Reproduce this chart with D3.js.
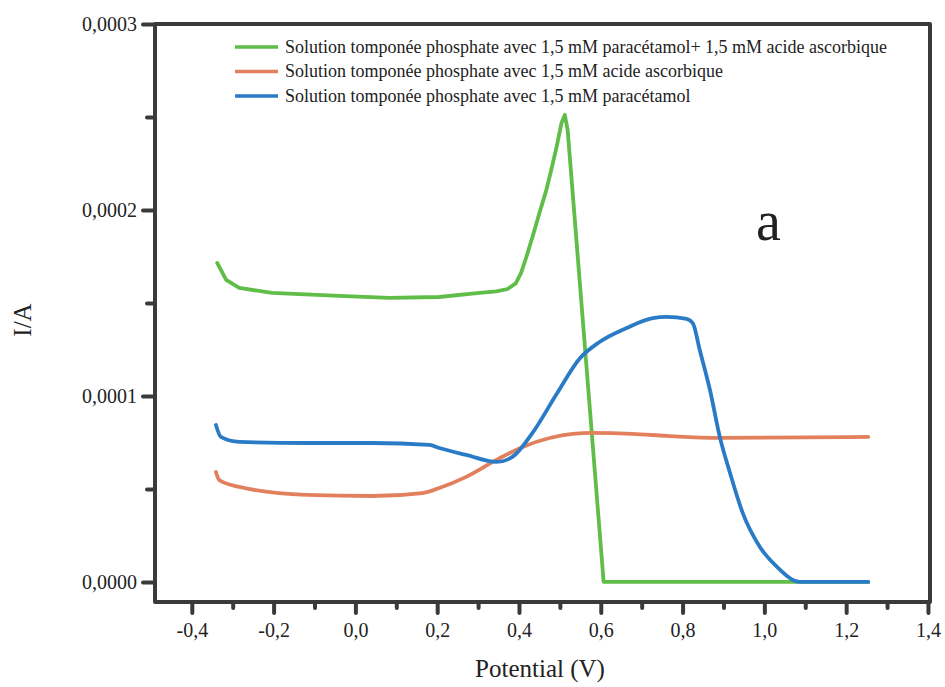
<!DOCTYPE html>
<html>
<head>
<meta charset="utf-8">
<script src="https://cdn.jsdelivr.net/npm/d3@7"></script>
<style>
  body { margin: 0; background: #fff; }
  svg { display: block; font-family: "Liberation Serif", "Times New Roman", serif; }
</style>
</head>
<body>
<svg></svg>
<script>
// Chart size
const width = 945;
const height = 687;

// Data (potential in V, current in A)
const potentialMix = [-0.338, -0.316, -0.284, -0.204, -0.040, 0.083, 0.205, 0.303, 0.345, 0.372, 0.392, 0.405, 0.418, 0.433, 0.450, 0.467, 0.480, 0.492, 0.504, 0.512, 0.519, 0.607, 1.254];
const currentMix = [1.715e-4, 1.624e-4, 1.581e-4, 1.554e-4, 1.538e-4, 1.527e-4, 1.532e-4, 1.554e-4, 1.562e-4, 1.575e-4, 1.605e-4, 1.660e-4, 1.747e-4, 1.855e-4, 1.984e-4, 2.108e-4, 2.226e-4, 2.339e-4, 2.468e-4, 2.511e-4, 2.430e-4, 0, 0];

const potentialAsc = [-0.341, -0.333, -0.284, -0.120, 0.041, 0.164, 0.205, 0.271, 0.345, 0.409, 0.475, 0.531, 0.580, 0.678, 0.761, 0.891, 1.254];
const currentAsc = [0.591e-4, 0.548e-4, 0.511e-4, 0.468e-4, 0.462e-4, 0.478e-4, 0.505e-4, 0.565e-4, 0.656e-4, 0.726e-4, 0.774e-4, 0.796e-4, 0.801e-4, 0.796e-4, 0.785e-4, 0.774e-4, 0.780e-4];

const potentialPara = [-0.341, -0.329, -0.284, -0.120, 0.041, 0.181, 0.205, 0.271, 0.345, 0.384, 0.433, 0.492, 0.548, 0.597, 0.663, 0.727, 0.761, 0.810, 0.825, 0.842, 0.867, 0.891, 0.916, 0.947, 0.989, 1.031, 1.087, 1.254];
const currentPara = [0.844e-4, 0.780e-4, 0.753e-4, 0.747e-4, 0.747e-4, 0.737e-4, 0.720e-4, 0.683e-4, 0.645e-4, 0.672e-4, 0.801e-4, 1.010e-4, 1.200e-4, 1.290e-4, 1.365e-4, 1.419e-4, 1.425e-4, 1.414e-4, 1.392e-4, 1.247e-4, 1.032e-4, 0.780e-4, 0.586e-4, 0.371e-4, 0.188e-4, 0.081e-4, 0, 0];

const seriesNames = [
    "Solution tomponée phosphate avec 1,5 mM paracétamol+ 1,5 mM acide ascorbique",
    "Solution tomponée phosphate avec 1,5 mM acide ascorbique",
    "Solution tomponée phosphate avec 1,5 mM paracétamol"
];

// Ticks
const xTicks = [-0.4, -0.2, 0.0, 0.2, 0.4, 0.6, 0.8, 1.0, 1.2, 1.4];
const xMinorTicks = [-0.3, -0.1, 0.1, 0.3, 0.5, 0.7, 0.9, 1.1, 1.3];
const yTicks = [0, 0.0001, 0.0002, 0.0003];
const yMinorTicks = [0.00005, 0.00015, 0.00025];

const colors = ["#5fbd48", "#e2805e", "#2a7bc6"];

const svg = d3.select("svg")
    .attr("width", width)
    .attr("height", height);

// Scales
const x = d3.scaleLinear().domain([-0.49, 1.405]).range([155, 930]);
const y = d3.scaleLinear().domain([-0.0000108, 0.0003]).range([602, 24]);

// Comma as decimal mark, plain hyphen for minus
const locale = d3.formatLocale({ decimal: ",", thousands: ".", grouping: [3], currency: ["", ""], minus: "-" });
const fmtX = locale.format(".1f");
const fmtY = locale.format(".4f");

// Curves
const series = [
    { xs: potentialMix, ys: currentMix, curve: d3.curveLinear },
    { xs: potentialAsc, ys: currentAsc, curve: d3.curveMonotoneX },
    { xs: potentialPara, ys: currentPara, curve: d3.curveMonotoneX }
];

series.forEach((s, i) => {
    const pts = s.xs.map((v, j) => [v, s.ys[j]]);
    const line = d3.line()
        .x(d => x(d[0]))
        .y(d => y(d[1]))
        .curve(s.curve);
    svg.append("path")
        .datum(pts)
        .attr("fill", "none")
        .attr("stroke", colors[i])
        .attr("stroke-width", 3.8)
        .attr("stroke-linejoin", "round")
        .attr("stroke-linecap", "round")
        .attr("d", line);
});

// Axes
const xAxis = svg.append("g")
    .attr("transform", `translate(0,${y.range()[0]})`)
    .call(d3.axisBottom(x).tickValues(xTicks).tickFormat(fmtX).tickSize(11).tickPadding(10));

const xMinor = svg.append("g")
    .attr("transform", `translate(0,${y.range()[0]})`)
    .call(d3.axisBottom(x).tickValues(xMinorTicks).tickFormat("").tickSize(6));

const yAxis = svg.append("g")
    .attr("transform", `translate(${x.range()[0]},0)`)
    .call(d3.axisLeft(y).tickValues(yTicks).tickFormat(fmtY).tickSize(12).tickPadding(6));

const yMinor = svg.append("g")
    .attr("transform", `translate(${x.range()[0]},0)`)
    .call(d3.axisLeft(y).tickValues(yMinorTicks).tickFormat("").tickSize(8));

[xAxis, xMinor, yAxis, yMinor].forEach(a => {
    a.select(".domain").remove();
    a.selectAll(".tick line")
        .attr("stroke", "#3a3a3a")
        .attr("stroke-width", 4)
        .attr("stroke-linecap", "round");
    a.selectAll(".tick text")
        .attr("fill", "#222")
        .style("font-family", "'Liberation Serif', 'Times New Roman', serif")
        .style("font-size", "20px");
});

// Frame
svg.append("rect")
    .attr("x", x.range()[0])
    .attr("y", y.range()[1])
    .attr("width", x.range()[1] - x.range()[0])
    .attr("height", y.range()[0] - y.range()[1])
    .attr("fill", "none")
    .attr("stroke", "#3a3a3a")
    .attr("stroke-width", 4)
    .attr("stroke-linejoin", "round");

// Axis titles
svg.append("text")
    .attr("x", 540)
    .attr("y", 677)
    .attr("text-anchor", "middle")
    .attr("fill", "#222")
    .style("font-size", "25px")
    .text("Potential (V)");

svg.append("text")
    .attr("transform", "translate(31,320) rotate(-90)")
    .attr("text-anchor", "middle")
    .attr("fill", "#222")
    .style("font-size", "25px")
    .text("I/A");

// Panel letter
svg.append("text")
    .attr("x", 756)
    .attr("y", 240)
    .attr("fill", "#222")
    .style("font-size", "56px")
    .text("a");

// Legend
const legend = svg.append("g")
    .attr("transform", "translate(235,47)");

seriesNames.forEach((name, i) => {
    const row = legend.append("g").attr("transform", `translate(0,${i * 24.5})`);
    row.append("line")
        .attr("x1", 0).attr("x2", 43)
        .attr("stroke", colors[i])
        .attr("stroke-width", 3.5);
    row.append("text")
        .attr("x", 50)
        .attr("dy", "0.33em")
        .attr("fill", "#222")
        .style("font-size", "18px")
        .text(name);
});
</script>
</body>
</html>
